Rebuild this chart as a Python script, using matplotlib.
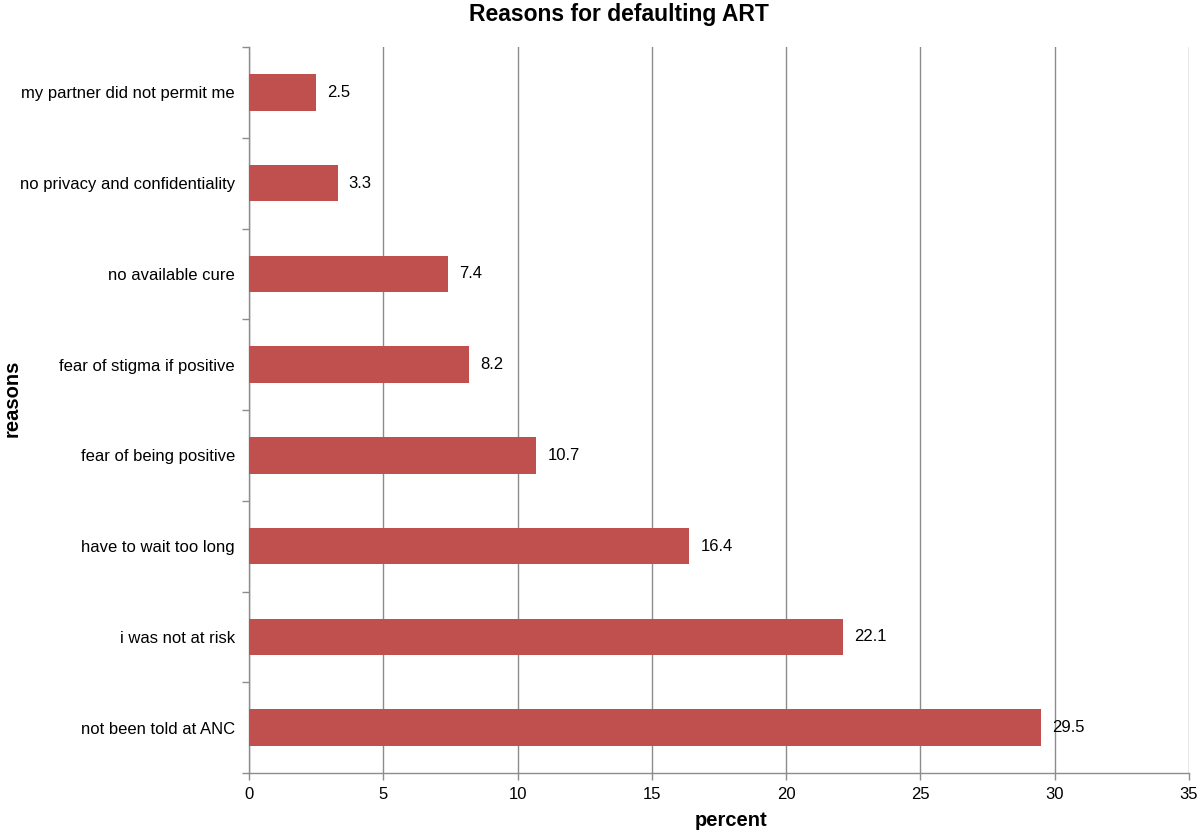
import matplotlib.pyplot as plt
import numpy as np

plt.rcParams['font.family'] = ['Liberation Sans', 'DejaVu Sans']

# data, top to bottom as shown in the chart
reasons = ["my partner did not permit me", "no privacy and confidentiality",
           "no available cure", "fear of stigma if positive",
           "fear of being positive", "have to wait too long",
           "i was not at risk", "not been told at ANC"]
percent = [2.5, 3.3, 7.4, 8.2, 10.7, 16.4, 22.1, 29.5]
xticks = [0, 5, 10, 15, 20, 25, 30, 35]

bar_color = '#C0504D'
axis_color = '#8c8c8c'

fig = plt.figure(figsize=(12, 8.32), dpi=100, facecolor='white')
ax = fig.add_axes([0.2075, 0.0709, 0.7833, 0.8726])

n = len(reasons)
ypos = np.arange(n)[::-1]
ax.barh(ypos, percent, height=0.4, color=bar_color, zorder=3)

for y, v in zip(ypos, percent):
    ax.annotate(f"{v}", (v, y), xytext=(8, 0), textcoords='offset points',
                va='center', ha='left', fontsize=12, zorder=4)

ax.set_xlim(0, 35)
ax.set_ylim(-0.5, n - 0.5)
ax.set_xticks(xticks)
ax.set_xticklabels([str(t) for t in xticks], fontsize=12)
ax.set_yticks(ypos)
ax.set_yticklabels(reasons, fontsize=12)
ax.set_yticks(np.arange(n + 1) - 0.5, minor=True)

ax.tick_params(axis='y', which='major', length=0, pad=10)
ax.tick_params(axis='y', which='minor', length=5, color=axis_color, width=1)
ax.tick_params(axis='x', which='major', length=5, color=axis_color, width=1,
               pad=5)

ax.grid(axis='x', color=axis_color, lw=1, zorder=0)
ax.set_axisbelow(True)
for side in ['top', 'right']:
    ax.spines[side].set_visible(False)
for side in ['left', 'bottom']:
    ax.spines[side].set_color(axis_color)
    ax.spines[side].set_linewidth(1)

fig.text(731 / 1200, 1 - 820 / 832, "percent", fontsize=14.5,
         fontweight='bold', ha='center', va='center')
fig.text(12 / 1200, 1 - 398 / 832, "reasons", fontsize=14.5,
         fontweight='bold', ha='center', va='center', rotation=90)
fig.text(619 / 1200, 1 - 14 / 832, "Reasons for defaulting ART",
         fontsize=16.5, fontweight='bold', ha='center', va='center')

plt.savefig("out.png", dpi=100, facecolor='white')
